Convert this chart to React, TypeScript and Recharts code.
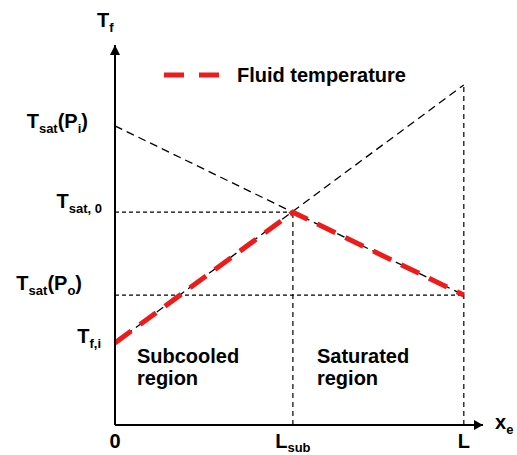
import { Legend, Line, LineChart, ReferenceDot, ReferenceLine, XAxis, YAxis } from 'recharts'

const FONT = '"Liberation Sans", Arial, Helvetica, sans-serif'
const RED = '#ee1b1b'

type Part = { t: string; sub?: boolean }

// positions along the channel (x_e axis): inlet, onset of saturation, outlet
const xPositions = [0, 0.51, 1]
const xTickLabels: Part[][] = [
  [{ t: '0' }],
  [{ t: 'L' }, { t: 'sub', sub: true }],
  [{ t: 'L' }],
]

// fluid temperature at inlet, L_sub and outlet
const fluidTemperature = [21.6, 56, 34.2]

// saturation temperature falls with pressure along the channel
const satX = [0, 1]
const satTemperature = [78.7, 34.2]

// temperature the liquid would reach if it stayed subcooled
const liquidX = [0, 1]
const liquidTemperature = [21.6, 89.5]

const yTicks = [21.6, 34.2, 56, 78.7]
const yTickLabels: Part[][] = [
  [{ t: 'T' }, { t: 'f,i', sub: true }],
  [{ t: 'T' }, { t: 'sat', sub: true }, { t: '(P' }, { t: 'o', sub: true }, { t: ')' }],
  [{ t: 'T' }, { t: 'sat, 0', sub: true }],
  [{ t: 'T' }, { t: 'sat', sub: true }, { t: '(P' }, { t: 'i', sub: true }, { t: ')' }],
]
const yTickNudge = [
  [-14, 0],
  [-33, -5],
  [-13, -4],
  [-27, 2],
]

const T_SAT_0 = 56
const L_SUB = 0.51
const L = 1
const X_END = 1.055
const Y_END = 100

const fluidData = xPositions.map((x, i) => ({ x, t: fluidTemperature[i] }))
const satData = satX.map((x, i) => ({ x, t: satTemperature[i] }))
const liquidData = liquidX.map((x, i) => ({ x, t: liquidTemperature[i] }))

function Rich({ parts, drop = 5 }: { parts: Part[]; drop?: number }) {
  let shifted = false
  return (
    <>
      {parts.map((p, i) => {
        const dy = p.sub ? (shifted ? 0 : drop) : shifted ? -drop : 0
        shifted = !!p.sub
        return (
          <tspan key={i} dy={dy} fontSize={p.sub ? 13 : 20}>
            {p.t}
          </tspan>
        )
      })}
    </>
  )
}

function YTick(props: any) {
  const i = yTicks.indexOf(props.payload.value)
  if (i < 0) return null
  const [dx, dy] = yTickNudge[i]
  return (
    <text x={props.x + dx} y={props.y + dy} textAnchor="end" fontFamily={FONT} fontWeight="bold" fill="#000">
      <Rich parts={yTickLabels[i]} />
    </text>
  )
}

function XTick(props: any) {
  const i = xPositions.indexOf(props.payload.value)
  if (i < 0) return null
  return (
    <text x={props.x} y={props.y + 23} textAnchor="middle" fontFamily={FONT} fontWeight="bold" fill="#000">
      <Rich parts={xTickLabels[i]} drop={4} />
    </text>
  )
}

function UpArrow(props: any) {
  const { cx, cy } = props
  return <path d={`M${cx},${cy} L${cx - 5},${cy + 10} L${cx + 5},${cy + 10} Z`} fill="#000" />
}

function RightArrow(props: any) {
  const { cx, cy } = props
  return <path d={`M${cx},${cy} L${cx - 9},${cy - 5} L${cx - 9},${cy + 5} Z`} fill="#000" />
}

function regionLabel(lines: string[]) {
  return (props: any) => (
    <text x={props.cx} y={props.cy} fontFamily={FONT} fontWeight="bold" fontSize={20} fill="#000">
      {lines.map((l, i) => (
        <tspan key={i} x={props.cx} dy={i === 0 ? 0 : 22}>
          {l}
        </tspan>
      ))}
    </text>
  )
}

function LegendBox() {
  return (
    <svg width={270} height={26} style={{ display: 'block' }}>
      <line x1={4} y1={12} x2={59} y2={12} stroke={RED} strokeWidth={5} strokeDasharray="20 15" />
      <text x={77} y={19} fontFamily={FONT} fontWeight="bold" fontSize={20} fill="#000">
        Fluid temperature
      </text>
    </svg>
  )
}

export default function App() {
  return (
    <div style={{ position: 'absolute', left: 0, top: 0, background: '#fff' }}>
      <LineChart width={517} height={455} margin={{ top: 45, right: 34, bottom: 0, left: 0 }}>
        <XAxis
          dataKey="x"
          type="number"
          domain={[0, X_END]}
          ticks={xPositions}
          interval={0}
          height={30}
          tickSize={0}
          tickMargin={0}
          tick={<XTick />}
          axisLine={{ stroke: '#000', strokeWidth: 2 }}
          tickLine={false}
          allowDataOverflow
          label={{
            content: (p: any) => (
              <text
                x={p.viewBox.x + p.viewBox.width + 12}
                y={p.viewBox.y + 4}
                fontFamily={FONT}
                fontWeight="bold"
                fill="#000"
              >
                <Rich parts={[{ t: 'x' }, { t: 'e', sub: true }]} />
              </text>
            ),
          }}
        />
        <YAxis
          type="number"
          domain={[0, Y_END]}
          ticks={yTicks}
          interval={0}
          width={115}
          tickSize={0}
          tickMargin={0}
          tick={<YTick />}
          axisLine={{ stroke: '#000', strokeWidth: 2 }}
          tickLine={false}
          allowDataOverflow
          label={{
            content: (p: any) => (
              <text
                x={p.viewBox.x + p.viewBox.width - 18}
                y={p.viewBox.y - 18}
                fontFamily={FONT}
                fontWeight="bold"
                fill="#000"
              >
                <Rich parts={[{ t: 'T' }, { t: 'f', sub: true }]} />
              </text>
            ),
          }}
        />
        <Legend
          verticalAlign="middle"
          content={() => <LegendBox />}
          wrapperStyle={{ position: 'absolute', left: 160, top: 63, width: 'auto' }}
        />

        {/* short-dash guides */}
        <ReferenceLine segment={[{ x: 0, y: T_SAT_0 }, { x: L_SUB, y: T_SAT_0 }]} stroke="#000" strokeWidth={1.2} strokeDasharray="4 3" />
        <ReferenceLine segment={[{ x: 0, y: satTemperature[1] }, { x: L, y: satTemperature[1] }]} stroke="#000" strokeWidth={1.2} strokeDasharray="4 3" />
        <ReferenceLine segment={[{ x: L_SUB, y: 0 }, { x: L_SUB, y: T_SAT_0 }]} stroke="#000" strokeWidth={1.2} strokeDasharray="5 4" />
        <ReferenceLine segment={[{ x: L, y: 0 }, { x: L, y: liquidTemperature[1] }]} stroke="#000" strokeWidth={1.2} strokeDasharray="5 4" />

        <Line data={satData} dataKey="t" stroke="#000" strokeWidth={1.3} strokeDasharray="8 5" dot={false} activeDot={false} isAnimationActive={false} legendType="none" />
        <Line data={liquidData} dataKey="t" stroke="#000" strokeWidth={1.3} strokeDasharray="8 5" dot={false} activeDot={false} isAnimationActive={false} legendType="none" />
        <Line data={fluidData} dataKey="t" name="Fluid temperature" stroke={RED} strokeWidth={5} strokeDasharray="20 11" dot={false} activeDot={false} isAnimationActive={false} />

        <ReferenceDot x={0} y={Y_END} ifOverflow="visible" shape={<UpArrow />} />
        <ReferenceDot x={X_END} y={0} ifOverflow="visible" shape={<RightArrow />} />
        <ReferenceDot x={0.063} y={16.3} ifOverflow="visible" shape={regionLabel(['Subcooled', 'region'])} />
        <ReferenceDot x={0.579} y={16.3} ifOverflow="visible" shape={regionLabel(['Saturated', 'region'])} />
      </LineChart>
    </div>
  )
}
